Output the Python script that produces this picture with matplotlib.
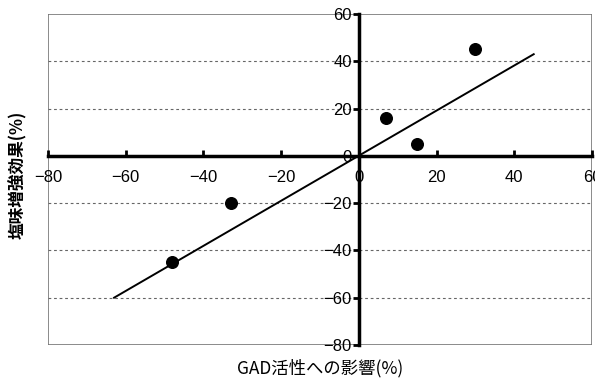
import matplotlib
matplotlib.use("Agg")
import matplotlib.pyplot as plt
from matplotlib.patches import Rectangle

# data
gad_effect = [-48, -33, 7, 15, 30]
salt_effect = [-45, -20, 16, 5, 45]
fit_x = [-63, 45]
fit_y = [-60, 43]

xticks = [-80, -60, -40, -20, 0, 20, 40, 60]
yticks = [-80, -60, -40, -20, 0, 20, 40, 60]

plt.rcParams['font.family'] = ['Liberation Sans', 'Noto Sans CJK JP', 'DejaVu Sans']

fig = plt.figure(figsize=(5.95, 3.79), dpi=100)
ax = fig.add_axes([48 / 595, 1 - 345 / 379, 544 / 595, 331 / 379])

ax.set_xlim(-80, 60)
ax.set_ylim(-80, 60)

for y in [-60, -40, -20, 20, 40]:
    ax.axhline(y, color='#666666', lw=0.8, ls=(0, (2.5, 2.5)), zorder=1)

ax.plot(fit_x, fit_y, color='black', lw=1.4, zorder=3)
ax.scatter(gad_effect, salt_effect, s=70, color='black', zorder=4)

ax.spines['left'].set_position(('data', 0))
ax.spines['bottom'].set_position(('data', 0))
ax.spines['left'].set_linewidth(2.5)
ax.spines['bottom'].set_linewidth(2.5)
ax.spines['top'].set_visible(False)
ax.spines['right'].set_visible(False)
ax.add_patch(Rectangle((0, 0), 1, 1, transform=ax.transAxes, fill=False,
                       edgecolor='#777777', lw=1.2, zorder=0))

ax.set_xticks(xticks)
ax.set_yticks(yticks)
ax.tick_params(axis='x', direction='in', length=4, width=2, labelsize=12, pad=10)
ax.tick_params(axis='y', direction='out', length=4, width=2, labelsize=12, pad=1)
ax.set_xticklabels([str(t).replace('-', '\u2212') for t in xticks])
ax.set_yticklabels([str(t).replace('-', '\u2212') for t in yticks])

fig.text(320 / 595, 1 - 368 / 379, 'GAD活性への影響(%)', ha='center', va='center',
         fontsize=12.5, family=['Noto Sans CJK JP'])
fig.text(18 / 595, 1 - 175 / 379, '塩味増強効果(%)', ha='center', va='center',
         rotation=90, fontsize=12, family=['Noto Sans CJK JP'], fontweight='bold')

fig.savefig('out.png', dpi=100)
